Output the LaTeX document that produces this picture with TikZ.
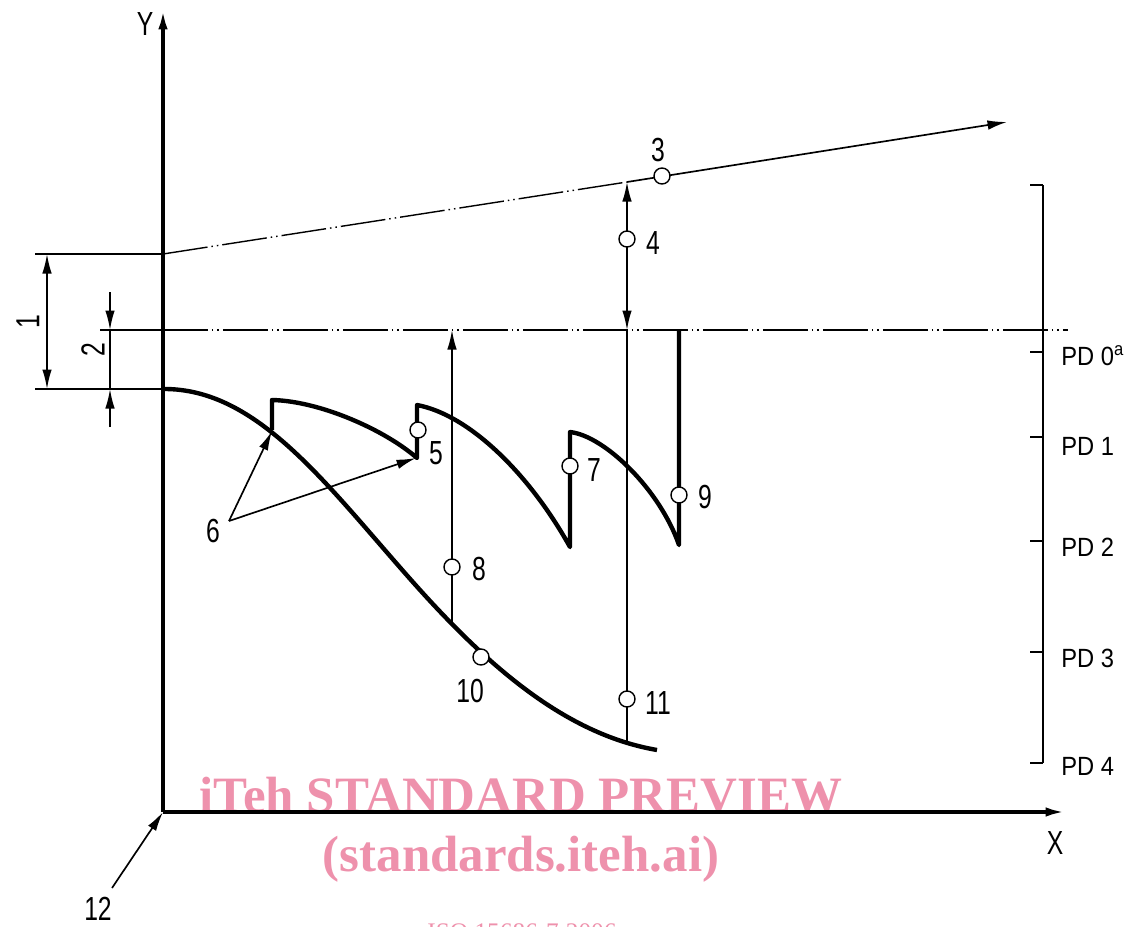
\documentclass[tikz,border=0pt]{standalone}
\usepackage{fontspec}
\setmainfont{Liberation Sans}
\newfontfamily\wmfont{Liberation Serif}
\usetikzlibrary{arrows.meta,positioning,calc}
\definecolor{wmpink}{RGB}{238,145,172}
\newcommand{\iso}[1]{\scalebox{0.74}[1]{#1}}
\newcommand{\pdtext}[1]{\scalebox{0.9}[1]{#1}}

\tikzset{
  axis/.style={line width=2pt},
  thinline/.style={line width=0.95pt},
  curve/.style={line width=2.5pt, line join=round},
  phantom/.style={line width=0.8pt, dash pattern=on 9mm off 0.8mm on 0.3mm off 0.8mm on 0.3mm off 0.8mm},
  ring/.style={circle, draw, fill=white, line width=0.8pt, minimum size=0.32cm, inner sep=0pt},
  lbl/.style={font=\fontsize{19}{20}\selectfont, inner sep=0pt},
  pdlbl/.style={font=\fontsize{15}{17}\selectfont, anchor=base west, inner sep=0pt},
  wmark/.style={font=\wmfont\bfseries\fontsize{29}{31}\selectfont, text=wmpink, anchor=base, inner sep=0pt}
}

\begin{document}
\begin{tikzpicture}[x=0.02cm, y=-0.02cm, >={Latex[length=3.9mm,width=1.9mm]}]
  \useasboundingbox (0,0) rectangle (1137,927);

  % Watermark
  \node[wmark] (wm1) at (521,812) {iTeh STANDARD PREVIEW};
  \node[wmark] (wm2) at (521,871) {(standards.iteh.ai)};
  \node[wmark, font=\wmfont\fontsize{14.4}{16}\selectfont] (wm3) at (522,940) {ISO 15686-7:2006};

  % Axes
  \coordinate (O) at (163,812);
  \coordinate (ytip) at (163,10);
  \coordinate (xtip) at (1065,812);
  \draw[axis, ->] (O) -- (ytip);
  \draw[axis, ->] (O) -- (xtip);
  \node[lbl] (ylbl) at (145,24) {\iso{Y}};
  \node[lbl] (xlbl) at (1055,843) {\iso{X}};

  % PD 0 line
  \coordinate (pd0L) at (100,330);
  \coordinate (pd0A) at (163,330);
  \coordinate (pd0R) at (1068,330);
  \draw[thinline] (pd0L) -- (pd0A);
  \draw[phantom] (pd0A) -- (pd0R);

  % Sloped line
  \coordinate (s0) at (163,254);
  \coordinate (s1) at (627,182);
  \coordinate (s2) at (1007,122);
  \draw[phantom] (s0) -- (s1);
  \draw[thinline, ->] (s1) -- (s2);

  % Dimension 1
  \coordinate (e1a) at (35,254);
  \coordinate (e1b) at (35,389);
  \coordinate (c0) at (163,389);
  \coordinate (d1a) at (47,254);
  \coordinate (d1b) at (47,389);
  \draw[thinline] (e1a) -- (s0);
  \draw[thinline] (e1b) -- (c0);
  \draw[thinline, <->] (d1a) -- (d1b);
  \node[lbl, rotate=90] (l1) at (28,322) {\iso{1}};

  % Dimension 2
  \coordinate (d2top) at (110,292);
  \coordinate (d2a) at (110,330);
  \coordinate (d2b) at (110,389);
  \coordinate (d2bot) at (110,427);
  \draw[thinline, ->] (d2top) -- (d2a);
  \draw[thinline] (d2a) -- (d2b);
  \draw[thinline, ->] (d2bot) -- (d2b);
  \node[lbl, rotate=90] (l2) at (93,350) {\iso{2}};

  % Arrow 4, line 11
  \coordinate (v4bot) at (627,330);
  \coordinate (v11bot) at (627,744);
  \draw[thinline, <->] (s1) -- (v4bot);
  \draw[thinline] (v4bot) -- (v11bot);

  % Line 8
  \coordinate (v8bot) at (452,626);
  \coordinate (v8top) at (452,330);
  \draw[thinline, ->] (v8bot) -- (v8top);

  % Falling curve
  \draw[curve] (c0) .. controls (260,388) and (330,490) .. (420,590)
    .. controls (495,673) and (570,735) .. (657,750);

  % Saw-tooth curve
  \draw[curve] (272,430) -- (272,400)
    .. controls (320,401) and (385,430) .. (417,458)
    -- (417,405)
    .. controls (470,415) and (530,475) .. (570,547)
    -- (570,432)
    .. controls (605,436) and (660,490) .. (679,545)
    -- (679,330);

  % Leaders 6
  \node[lbl] (l6) at (213,531) {\iso{6}};
  \coordinate (l6a) at (229,521);
  \coordinate (j1) at (272,431);
  \coordinate (j2) at (416,458);
  \draw[thinline, ->] (l6a) -- (j1);
  \draw[thinline, ->] (l6a) -- (j2);

  % Leader 12
  \coordinate (l12a) at (112,888);
  \draw[thinline, ->] (l12a) -- (O);
  \node[lbl] (l12) at (98,909) {\iso{12}};

  % Points
  \node[ring] (p3) at (662,176) {};
  \node[lbl] (l3) at (658,150) {\iso{3}};
  \node[ring] (p4) at (627,239) {};
  \node[lbl] (l4) at (653,243) {\iso{4}};
  \node[ring] (p5) at (418,430) {};
  \node[lbl] (l5) at (436,453) {\iso{5}};
  \node[ring] (p7) at (570,466) {};
  \node[lbl] (l7) at (594,470) {\iso{7}};
  \node[ring] (p8) at (452,567) {};
  \node[lbl] (l8) at (479,569) {\iso{8}};
  \node[ring] (p9) at (679,495) {};
  \node[lbl] (l9) at (705,497) {\iso{9}};
  \node[ring] (p10) at (481,657) {};
  \node[lbl] (l10) at (470,691) {\iso{10}};
  \node[ring] (p11) at (627,699) {};
  \node[lbl] (l11) at (658,703) {\iso{11}};

  % PD scale
  \coordinate (sc0) at (1043,185);
  \coordinate (sc1) at (1043,763);
  \draw[line width=1.3pt] (sc0) -- (sc1);
  \foreach \y in {185,352,437,541,652,763}
    \draw[thinline] (1030,\y) -- (1043,\y);
  \foreach \y/\t [count=\i from 0] in {365/{PD 0\textsuperscript{a}},455/PD 1,556/PD 2,667/PD 3,775/PD 4}
    \node[pdlbl] (pd\i) at (1061,\y) {\pdtext{\t}};
\end{tikzpicture}
\end{document}
